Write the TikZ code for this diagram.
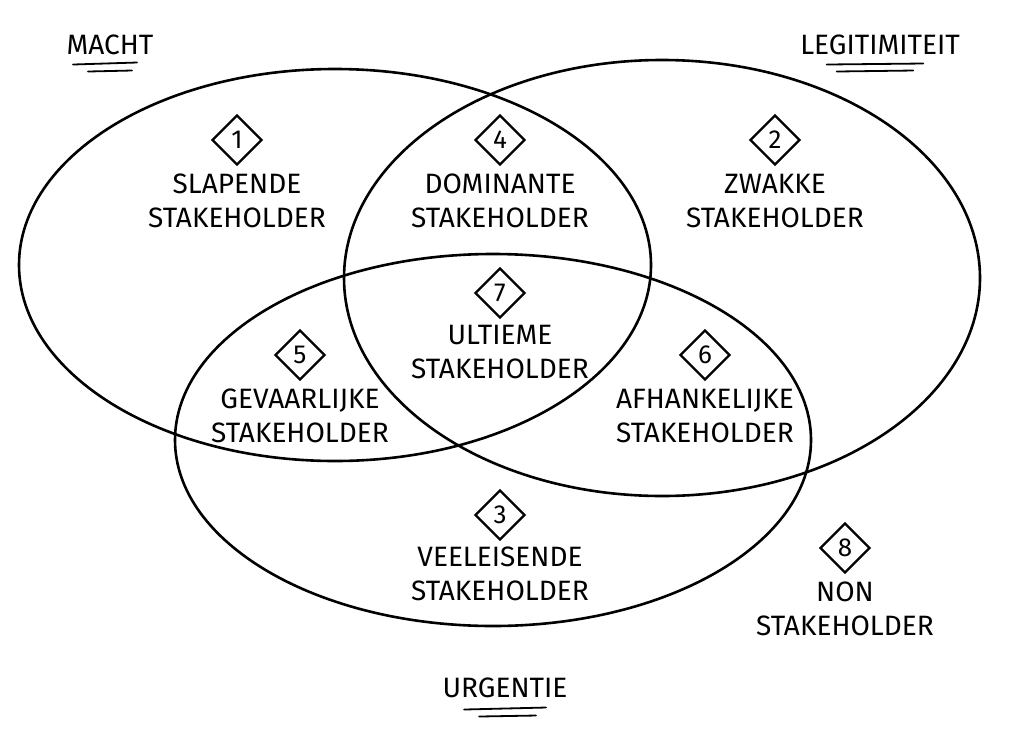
\documentclass[tikz,border=0pt]{standalone}
\usepackage{fontspec}
\setmainfont{Fira Sans}
\usetikzlibrary{calc}
\usetikzlibrary{positioning}
\usetikzlibrary{shapes.geometric}
\tikzstyle{setline} = [draw, line width=2.6pt]
\tikzstyle{numnode} = [draw, diamond, line width=2.4pt, inner sep=2pt, minimum size=50pt, font=\fontsize{26}{28}\selectfont]
\tikzstyle{typenode} = [align=center, font=\fontsize{28}{34}\selectfont]
\tikzstyle{setname} = [font=\fontsize{28}{32}\selectfont]
\tikzstyle{underline} = [line width=1.8pt, line cap=round]
\begin{document}
\begin{tikzpicture}[x=1pt, y=-1pt]
\useasboundingbox (0,0) rectangle (1024,736);
% de drie cirkels
\draw[setline] (335,265) ellipse [x radius=316, y radius=196];
\draw[setline] (662,278) ellipse [x radius=318, y radius=218];
\draw[setline] (493,440) ellipse [x radius=318, y radius=186];

\node[setname] (macht) at (110,45) {MACHT};
\draw[underline] ($(macht.south west)+(10,6)$) -- ($(macht.south east)+(-20,4)$);
\draw[underline] ($(macht.south west)+(25,13)$) -- ($(macht.south east)+(-25,12)$);
\node[setname] (legit) at (880,45) {LEGITIMITEIT};
\draw[underline] ($(legit.south west)+(30,6)$) -- ($(legit.south east)+(-40,5)$);
\draw[underline] ($(legit.south west)+(40,13)$) -- ($(legit.south east)+(-50,12)$);
\node[setname] (urg) at (505,688) {URGENTIE};
\draw[underline] ($(urg.south west)+(25,8)$) -- ($(urg.south east)+(-25,6)$);
\draw[underline] ($(urg.south west)+(40,15)$) -- ($(urg.south east)+(-35,14)$);

\node[numnode] (n1) at (237,140) {1};
\node[typenode, below=4pt of n1] (t1) {SLAPENDE\\STAKEHOLDER};
\node[numnode] (n4) at (500,140) {4};
\node[typenode, below=4pt of n4] (t4) {DOMINANTE\\STAKEHOLDER};
\node[numnode] (n2) at (775,140) {2};
\node[typenode, below=4pt of n2] (t2) {ZWAKKE\\STAKEHOLDER};
\node[numnode] (n7) at (500,293) {7};
\node[typenode, below=2pt of n7] (t7) {ULTIEME\\STAKEHOLDER};
\node[numnode] (n5) at (300,355) {5};
\node[typenode, below=4pt of n5] (t5) {GEVAARLIJKE\\STAKEHOLDER};
\node[numnode] (n6) at (705,355) {6};
\node[typenode, below=4pt of n6] (t6) {AFHANKELIJKE\\STAKEHOLDER};
\node[numnode] (n3) at (500,515) {3};
\node[typenode, below=2pt of n3] (t3) {VEELEISENDE\\STAKEHOLDER};
\node[numnode] (n8) at (845,548) {8};
\node[typenode, below=4pt of n8] (t8) {NON\\STAKEHOLDER};
\end{tikzpicture}
\end{document}
